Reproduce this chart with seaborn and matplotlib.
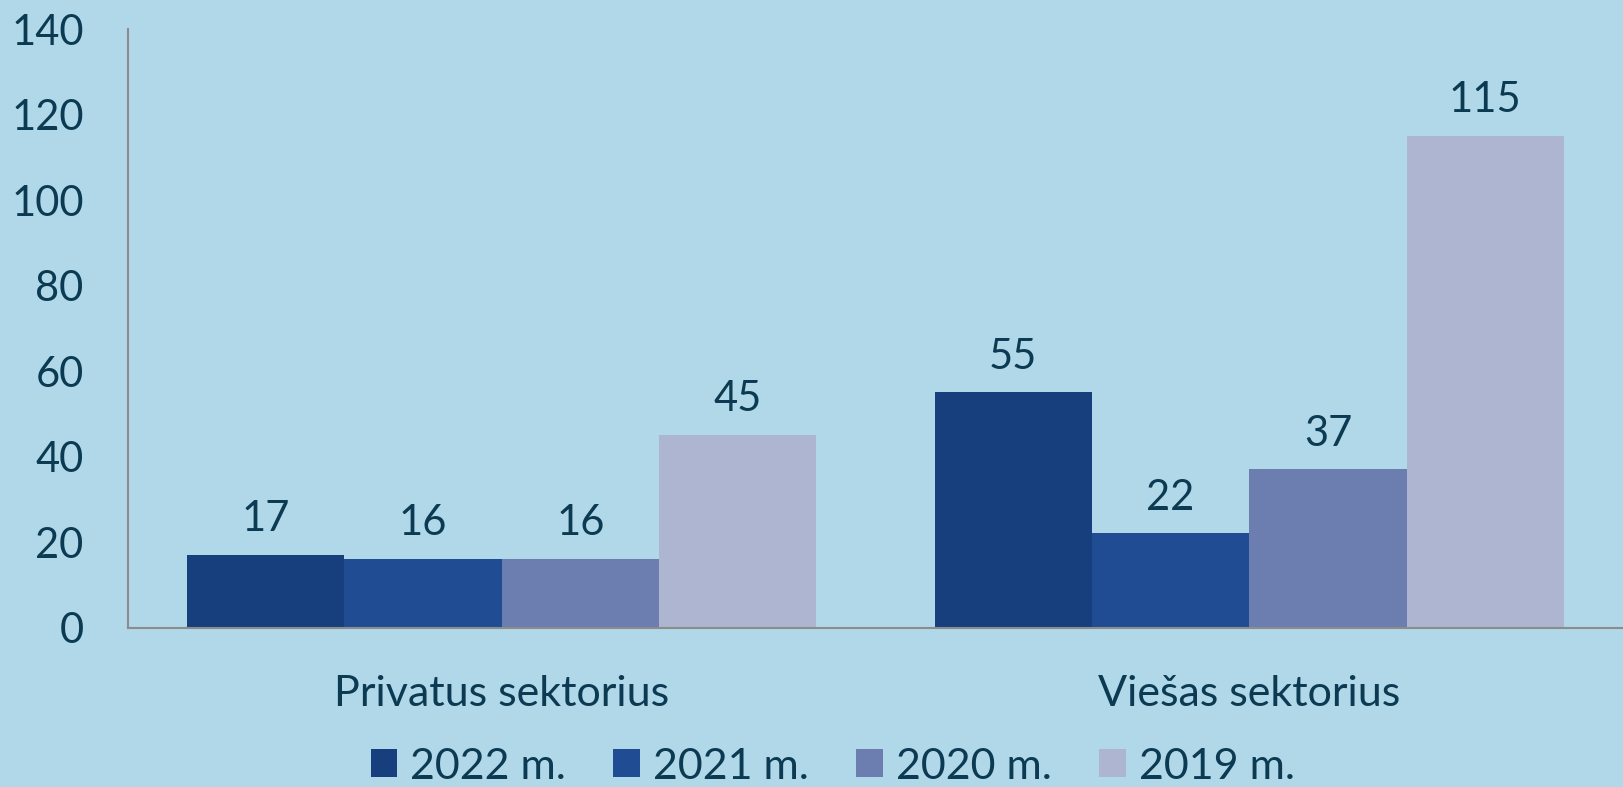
import matplotlib
matplotlib.use('Agg')
import matplotlib.pyplot as plt
import pandas as pd
import seaborn as sns

# Chart data
sectors = ['Privatus sektorius', 'Viešas sektorius']
years = ['2022 m.', '2021 m.', '2020 m.', '2019 m.']
values = {
    '2022 m.': [17, 55],
    '2021 m.': [16, 22],
    '2020 m.': [16, 37],
    '2019 m.': [45, 115],
}
colors = ['#173f7d', '#1f4c93', '#6c7daf', '#adb5d0']

df = pd.DataFrame([
    {'sector': s, 'year': y, 'value': values[y][i]}
    for y in years for i, s in enumerate(sectors)
])

bg = '#b0d8e8'
txt = '#0b3a52'

sns.set_theme(style='white')
plt.rcParams['font.family'] = ['Lato', 'DejaVu Sans']

fig = plt.figure(figsize=(16.23, 7.87), dpi=100, facecolor=bg)
ax = fig.add_axes([128 / 1623, (787 - 627.5) / 787, 1 - 128 / 1623, (627.5 - 29) / 787])
ax.set_facecolor(bg)

sns.barplot(data=df, x='sector', y='value', hue='year', hue_order=years,
            palette=colors, width=0.842, saturation=1, ax=ax, legend=True,
            linewidth=0, edgecolor='none')

for c in ax.containers:
    ax.bar_label(c, padding=12, fontsize=30, color=txt)

ax.set_ylim(0, 140)
ax.set_yticks(range(0, 141, 20))
ax.set_xlim(-0.5, 1.5)
ax.set_xlabel('')
ax.set_ylabel('')
ax.tick_params(axis='y', labelsize=30, labelcolor=txt, length=0, pad=32)
ax.tick_params(axis='x', labelsize=31, labelcolor=txt, length=0, pad=34)

for side in ['top', 'right']:
    ax.spines[side].set_visible(False)
for side in ['left', 'bottom']:
    ax.spines[side].set_color('#8c8c8c')
    ax.spines[side].set_linewidth(1.5)

handles, labels = ax.get_legend_handles_labels()
ax.get_legend().remove()
leg = fig.legend(handles, labels, loc='center', bbox_to_anchor=(0.513, 0.026), ncol=4,
                 frameon=False, fontsize=31, handlelength=0.62, handleheight=0.62,
                 handletextpad=0.3, columnspacing=1.1)
for t in leg.get_texts():
    t.set_color(txt)

fig.savefig('out.png', dpi=100, facecolor=bg)
